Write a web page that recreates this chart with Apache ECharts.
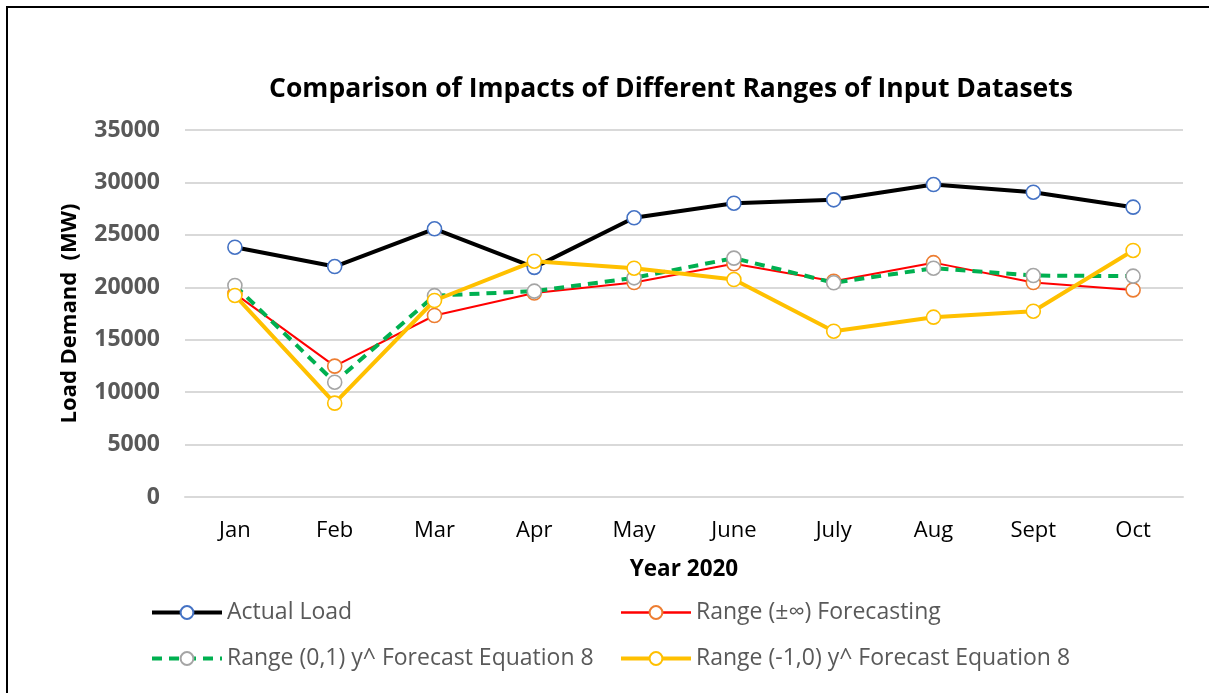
<!DOCTYPE html>
<html><head><meta charset="utf-8">
<script src="https://cdn.jsdelivr.net/npm/echarts@6/dist/echarts.min.js"></script>
<style>html,body{margin:0;padding:0;background:#fff}#c{width:1209px;height:693px}</style>
</head><body><div id="c"></div>
<script>
const categories = ['Jan','Feb','Mar','Apr','May','June','July','Aug','Sept','Oct'];
const actualLoad = [23820, 21980, 25580, 21900, 26630, 28020, 28340, 29800, 29070, 27640];
const rangeInf = [19400, 12480, 17310, 19450, 20450, 22240, 20580, 22350, 20450, 19750];
const range01 = [20170, 10950, 19200, 19630, 20900, 22780, 20430, 21820, 21120, 21060];
const rangeM10 = [19220, 8950, 18740, 22490, 21820, 20740, 15810, 17150, 17720, 23510];
const yTicks = [0, 5000, 10000, 15000, 20000, 25000, 30000, 35000];
const names = ['Actual Load','Range (\u00B1\u221E) Forecasting','Range (0,1) y^ Forecast Equation 8','Range (-1,0) y^ Forecast Equation 8'];

const FONT = '"Open Sans"';
const chart = echarts.init(document.getElementById('c'));
function mk(name, data, lineColor, width, markerColor, dashed, z) {
  return {
    name, type: 'line', data, z,
    symbol: 'circle', symbolSize: 14,
    lineStyle: {color: lineColor, width, type: dashed ? [10, 7] : 'solid'},
    itemStyle: {color: '#fff', borderColor: markerColor, borderWidth: 1.6},
    emphasis: {disabled: true}
  };
}
const legendText = {fontFamily: FONT, fontSize: 23, color: '#595959'};
chart.setOption({
  animation: false,
  title: {
    text: 'Comparison of Impacts of Different Ranges of Input Datasets',
    left: 666, top: 71, textAlign: 'center',
    textStyle: {fontFamily: FONT, fontWeight: 'bold', fontSize: 26.5, color: '#000'}
  },
  graphic: [{type: 'rect', shape: {x: 7, y: 7, width: 1400, height: 900}, style: {fill: 'none', stroke: '#000', lineWidth: 2}, silent: true}],
  grid: {left: 185, right: 26, top: 130, bottom: 196},
  legend: [
    {data: [{name: names[0], lineStyle: {width: 4}}, {name: names[2], lineStyle: {width: 4}}],
     orient: 'vertical', left: 145, top: 596, itemWidth: 70, itemHeight: 16, itemGap: 23, textStyle: legendText},
    {data: [{name: names[1], lineStyle: {width: 2.5}}, {name: names[3], lineStyle: {width: 4}}],
     orient: 'vertical', left: 614, top: 596, itemWidth: 70, itemHeight: 16, itemGap: 23, textStyle: legendText}
  ],
  xAxis: {
    type: 'category', data: categories, boundaryGap: true,
    name: 'Year 2020', nameLocation: 'middle', nameGap: 61,
    nameTextStyle: {fontFamily: FONT, fontWeight: 'bold', fontSize: 22.5, color: '#000'},
    axisLine: {lineStyle: {color: '#d9d9d9', width: 2}},
    axisTick: {show: false},
    axisLabel: {fontFamily: FONT, fontSize: 22, color: '#000', margin: 23}
  },
  yAxis: {
    type: 'value', min: 0, max: 35000, interval: 5000,
    name: 'Load Demand  (MW)', nameLocation: 'middle', nameGap: 104, nameRotate: 90,
    nameTextStyle: {fontFamily: FONT, fontWeight: 'bold', fontSize: 22, color: '#000'},
    axisLine: {show: false}, axisTick: {show: false},
    splitLine: {lineStyle: {color: '#d9d9d9', width: 2}},
    axisLabel: {fontFamily: FONT, fontWeight: 'bold', fontSize: 23, color: '#595959', margin: 25,
      formatter: v => yTicks.includes(v) ? String(v) : ''}
  },
  series: [
    mk(names[0], actualLoad, '#000', 4, '#4472C4', false, 2),
    mk(names[1], rangeInf, '#FF0000', 2, '#ED7D31', false, 3),
    mk(names[2], range01, '#00B050', 4, '#A5A5A5', true, 4),
    mk(names[3], rangeM10, '#FFC000', 4, '#FFC000', false, 5)
  ]
});
</script></body></html>
